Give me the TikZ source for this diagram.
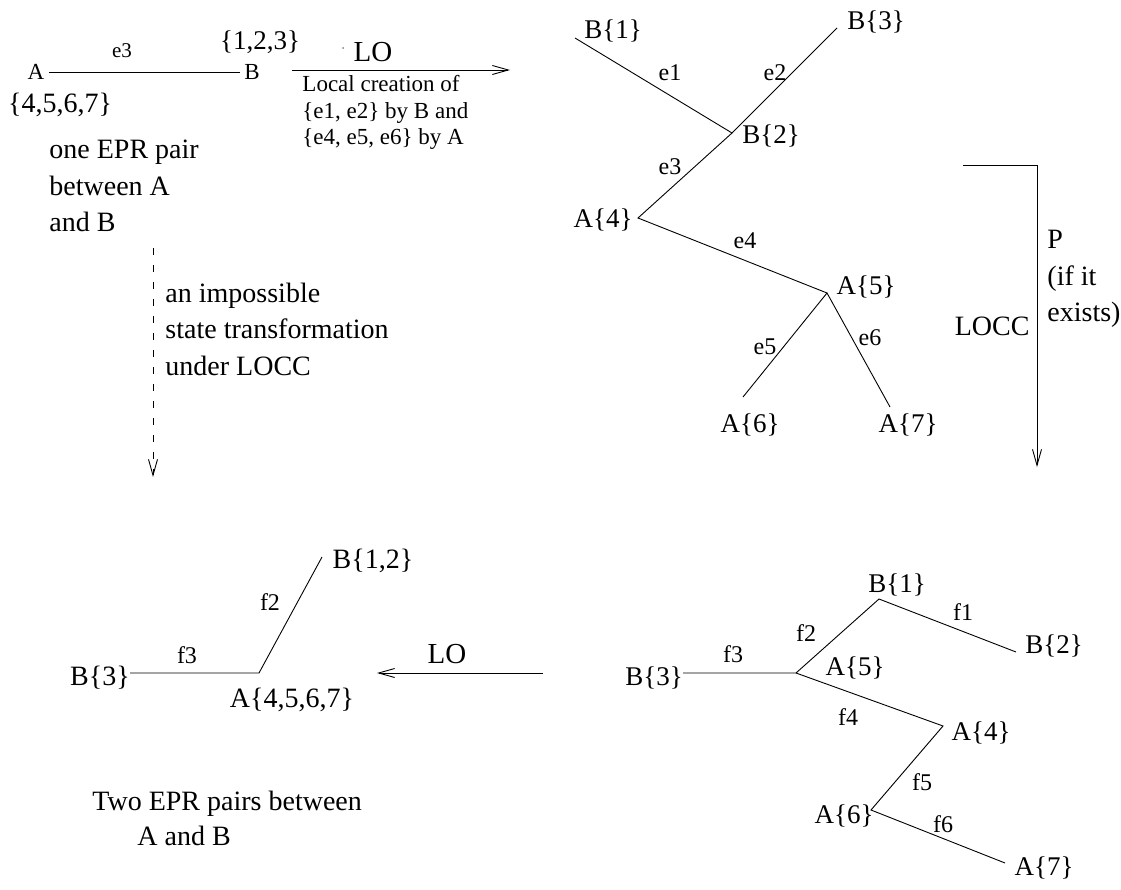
\documentclass[tikz,border=0pt]{standalone}
\usepackage{fontspec}
\setmainfont{Liberation Serif}
\usetikzlibrary{arrows.meta}

\begin{document}
\begin{tikzpicture}[x=1pt, y=-1pt, line width=0.9pt,
	txt/.style={font=\fontsize{28}{36.5}\selectfont, inner sep=0pt, align=left, anchor=base west},
	vtx/.style={font=\fontsize{27}{32}\selectfont, inner sep=0pt, anchor=base},
	elab/.style={font=\fontsize{24}{28}\selectfont, inner sep=0pt, anchor=base},
	arr/.style={-{Straight Barb[length=16pt, width=9pt]}}]
		
		\useasboundingbox (0,0) rectangle (1121,890);
		
		% one EPR pair
		\node[font=\fontsize{23}{28}\selectfont, inner sep=4pt] (lA) at (36,72) {A};
		\node[font=\fontsize{23}{28}\selectfont, inner sep=4pt] (lB) at (252,72) {B};
		\draw (lA) -- (lB);
		\node[elab, font=\fontsize{21}{24}\selectfont] (le3) at (122,58) {e3};
		\node[vtx] (l123) at (260,50) {\{1,2,3\}};
		\node[vtx, font=\fontsize{28}{32}\selectfont] (l4567) at (60,113) {\{4,5,6,7\}};
		\node[txt] (lone) at (49,232) {one EPR pair\\between A\\and B};
		
		% LO, top
		\coordinate (lo1) at (292,70);
		\coordinate (lo2) at (510,70);
		\draw[arr] (lo1) -- (lo2);
		\fill[gray] (343,48) circle (1pt);
		\node[vtx, font=\fontsize{29}{32}\selectfont] (lLO) at (373,62) {LO};
		\node[txt, font=\fontsize{23}{26.5}\selectfont] (llocal) at (302,145) {Local creation of\\\{e1, e2\} by B and\\\{e4, e5, e6\} by A};
		
		% impossible transformation
		\coordinate (d1) at (153,248);
		\coordinate (d2) at (153,477);
		\draw[arr, dash pattern=on 7pt off 10pt] (d1) -- (d2);
		\node[txt] (limp) at (165,375) {an impossible\\state transformation\\under LOCC};
		
		% tree e1..e6
		\coordinate (t1) at (575,38);
		\coordinate (t2) at (732,133);
		\coordinate (t3) at (837,28);
		\coordinate (t4) at (638,218);
		\coordinate (t5) at (827,293);
		\coordinate (t6) at (743,397);
		\coordinate (t7) at (890,407);
		\draw (t1) -- (t2) -- (t4) -- (t5) -- (t6);
		\draw (t3) -- (t2);
		\draw (t5) -- (t7);
		
		\node[vtx] (tB1) at (613,39) {B\{1\}};
		\node[vtx] (tB3) at (876,30) {B\{3\}};
		\node[vtx] (tB2) at (771,144) {B\{2\}};
		\node[vtx] (tA4) at (603,228) {A\{4\}};
		\node[vtx] (tA5) at (866,295) {A\{5\}};
		\node[vtx] (tA6) at (750,432) {A\{6\}};
		\node[vtx] (tA7) at (908,432) {A\{7\}};
		
		\node[elab] (te1) at (670,81) {e1};
		\node[elab] (te2) at (775,81) {e2};
		\node[elab] (te3) at (670,175) {e3};
		\node[elab] (te4) at (745,249) {e4};
		\node[elab] (te5) at (765,355) {e5};
		\node[elab] (te6) at (870,345) {e6};
		
		% LOCC
		\coordinate (p1) at (963,165);
		\coordinate (p2) at (1037,467);
		\draw[arr] (p1) -| (p2);
		\node[txt] (lP) at (1047,322) {P\\(if it\\exists)};
		\node[txt, anchor=base east] (lLOCC) at (1030,335) {LOCC};
		
		% tree f1..f6
		\node[vtx] (rB3) at (654,685) {B\{3\}};
		\coordinate (r1) at (879,599);
		\coordinate (r2) at (1016,652);
		\coordinate (r5) at (796,673);
		\coordinate (r4) at (943,726);
		\coordinate (r6) at (871,810);
		\coordinate (r7) at (1005,863);
		\draw (r5 -| rB3.east) -- (r5) -- (r1) -- (r2);
		\draw (r5) -- (r4) -- (r6) -- (r7);
		
		\node[vtx] (rB1) at (897,592) {B\{1\}};
		\node[vtx] (rB2) at (1054,653) {B\{2\}};
		\node[vtx] (rA5) at (855,675) {A\{5\}};
		\node[vtx] (rA4) at (981,740) {A\{4\}};
		\node[vtx] (rA6) at (844,823) {A\{6\}};
		\node[vtx] (rA7) at (1044,875) {A\{7\}};
		
		\node[elab] (rf1) at (963,620) {f1};
		\node[elab] (rf2) at (806,641) {f2};
		\node[elab] (rf3) at (733,662) {f3};
		\node[elab] (rf4) at (848,725) {f4};
		\node[elab] (rf5) at (922,790) {f5};
		\node[elab] (rf6) at (943,832) {f6};
		
		% LO, bottom
		\coordinate (lb1) at (543,673);
		\coordinate (lb2) at (377,673);
		\draw[arr] (lb1) -- (lb2);
		\node[vtx, font=\fontsize{29}{32}\selectfont] (bLO) at (447,663) {LO};
		
		% two EPR pairs
		\node[vtx, font=\fontsize{28}{32}\selectfont] (bB3) at (100,685) {B\{3\}};
		\coordinate (bj) at (259,673);
		\coordinate (bj12) at (322,557);
		\draw (bj -| bB3.east) -- (bj) -- (bj12);
		\node[vtx, font=\fontsize{28}{32}\selectfont] (bB12) at (373,568) {B\{1,2\}};
		\node[vtx, font=\fontsize{28}{32}\selectfont] (bA) at (292,707) {A\{4,5,6,7\}};
		\node[elab] (bf2) at (270,610) {f2};
		\node[elab] (bf3) at (187,663) {f3};
		\node[txt, font=\fontsize{28}{35}\selectfont] (ltwo) at (92,845) {Two EPR pairs between\\\hspace*{45pt}A and B};
		\end{tikzpicture}
\end{document}
